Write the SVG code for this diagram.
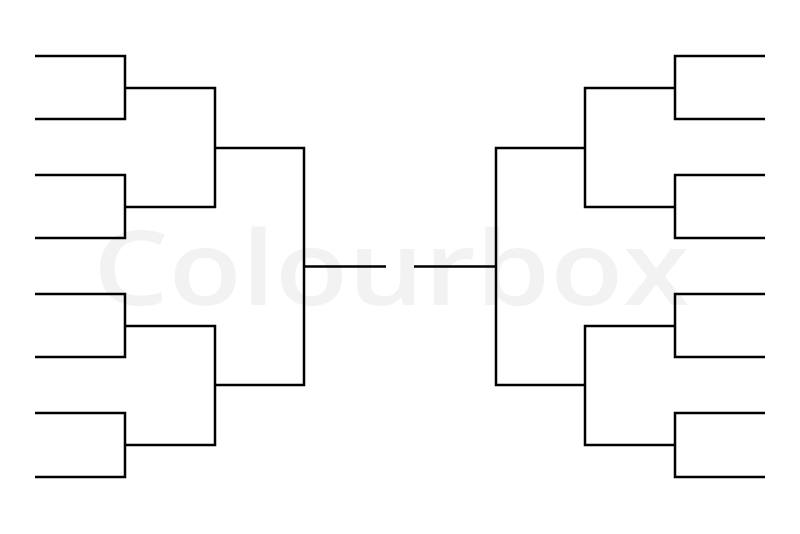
<svg xmlns="http://www.w3.org/2000/svg" width="800" height="534" viewBox="0 0 800 534">
  <style>
    .wm { font-family: "Open Sans", "Liberation Sans", sans-serif; font-weight: 600; font-size: 104px; fill: #f2f2f2; }
    .br { fill: none; stroke: #000; stroke-width: 2.5; stroke-linejoin: miter; stroke-linecap: butt; }
  </style>
  <rect width="800" height="534" fill="#fff"/>
  <text id="watermark" class="wm" x="93" y="305" textLength="596" lengthAdjust="spacingAndGlyphs">Colourbox</text>
  <g id="connectors" class="br">
    <g id="left-round1">
      <path d="M35 56 H125 V119 H35"/>
      <path d="M35 175 H125 V238 H35"/>
      <path d="M35 294 H125 V357 H35"/>
      <path d="M35 413 H125 V477 H35"/>
    </g>
    <g id="left-round2">
      <path d="M125 88 H215 V207 H125"/>
      <path d="M125 326 H215 V445 H125"/>
    </g>
    <g id="left-round3">
      <path d="M215 148 H304 V385 H215"/>
      <path d="M304 266.5 H386"/>
    </g>
    <g id="right-round1">
      <path d="M765 56 H675 V119 H765"/>
      <path d="M765 175 H675 V238 H765"/>
      <path d="M765 294 H675 V357 H765"/>
      <path d="M765 413 H675 V477 H765"/>
    </g>
    <g id="right-round2">
      <path d="M675 88 H585 V207 H675"/>
      <path d="M675 326 H585 V445 H675"/>
    </g>
    <g id="right-round3">
      <path d="M585 148 H496 V385 H585"/>
      <path d="M496 266.5 H414"/>
    </g>
  </g>
</svg>
